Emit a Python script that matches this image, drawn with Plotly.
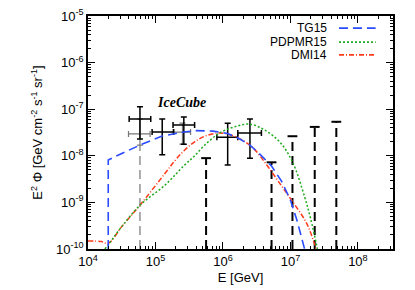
import numpy as np
import plotly.graph_objects as go

# ---------------- data (log10 values) ----------------
tg15_logE = [4.30, 4.30, 4.50, 4.77, 5.09, 5.42, 5.60, 5.85, 6.07, 6.25, 6.40, 6.55, 6.72, 6.87, 7.00, 7.10, 7.21]
tg15_logY = [-10.0, -8.09, -7.95, -7.77, -7.58, -7.49, -7.46, -7.47, -7.52, -7.64, -7.77, -7.97, -8.22, -8.55, -8.95, -9.40, -10.0]

dmi14_logE = [4.00, 4.20, 4.30, 4.50, 4.77, 5.14, 5.29, 5.43, 5.58, 5.73, 5.95, 6.17, 6.43, 6.66, 6.87, 7.03, 7.24, 7.38]
dmi14_logY = [-9.83, -9.84, -9.88, -9.52, -9.06, -8.38, -8.10, -7.88, -7.70, -7.58, -7.51, -7.58, -7.81, -8.22, -8.65, -8.98, -9.45, -10.0]

dpmr15_logE = [4.25, 4.33, 4.50, 4.77, 5.14, 5.43, 5.58, 5.73, 5.95, 6.17, 6.40, 6.62, 6.84, 7.03, 7.21, 7.30, 7.40]
dpmr15_logY = [-10.0, -9.85, -9.52, -9.06, -8.63, -8.20, -8.00, -7.77, -7.51, -7.38, -7.32, -7.45, -7.70, -8.13, -8.88, -9.35, -10.0]

# IceCube points (black)
ic_logE = [4.77, 5.10, 5.42, 6.07, 6.40]
ic_logElo = [4.61, 4.95, 5.26, 5.91, 6.22]
ic_logEhi = [4.93, 5.27, 5.58, 6.22, 6.57]
ic_logY = [-7.21, -7.49, -7.34, -7.60, -7.51]
ic_logYhi = [-6.95, -7.21, -7.17, -7.30, -7.21]
ic_logYlo = [-7.64, -7.98, -7.75, -8.20, -8.05]

# IceCube points (gray)
icg_logE = [4.77, 5.40]
icg_logElo = [4.60, 5.26]
icg_logEhi = [4.92, 5.52]
icg_logY = [-7.53, -7.49]
icg_logYhi = [-7.21, -7.30]
icg_logYlo = [-7.77, -7.75]

# upper limits
ul_logE = [5.75, 6.72, 7.03, 7.36, 7.68]
ul_logY = [-8.05, -8.14, -7.58, -7.38, -7.27]

YMIN = -10.0

p = lambda a: [10 ** v for v in a]

fig = go.Figure()

# gray dashed line below the gray point
fig.add_trace(go.Scatter(x=p([icg_logE[0], icg_logE[0]]), y=p([YMIN, icg_logYlo[0]]), mode="lines",
                         line=dict(color="#777777", width=1.2, dash="9px,5px"), showlegend=False))

# upper limits: dashed verticals
ulx, uly = [], []
for e, v in zip(ul_logE, ul_logY):
    ulx += [10 ** e, 10 ** e, None]
    uly += [10 ** YMIN, 10 ** v, None]
fig.add_trace(go.Scatter(x=ulx, y=uly, mode="lines",
                         line=dict(color="black", width=2, dash="9px,5px"), showlegend=False))
fig.add_trace(go.Scatter(x=p(ul_logE), y=p(ul_logY), mode="markers",
                         marker=dict(symbol="line-ew", size=7, line=dict(color="black", width=2)),
                         showlegend=False))

def errpts(logE, lo, hi, logY, ylo, yhi, color, width):
    x = np.array(p(logE)); y = np.array(p(logY))
    return go.Scatter(
        x=x, y=y, mode="markers", marker=dict(size=1, color=color), showlegend=False,
        error_x=dict(type="data", symmetric=False, array=np.array(p(hi)) - x, arrayminus=x - np.array(p(lo)),
                     color=color, thickness=width, width=3),
        error_y=dict(type="data", symmetric=False, array=np.array(p(yhi)) - y, arrayminus=y - np.array(p(ylo)),
                     color=color, thickness=width, width=3))

fig.add_trace(errpts(icg_logE, icg_logElo, icg_logEhi, icg_logY, icg_logYlo, icg_logYhi, "#777777", 1.2))
fig.add_trace(errpts(ic_logE, ic_logElo, ic_logEhi, ic_logY, ic_logYlo, ic_logYhi, "black", 1.5))

BLUE = "#2a4bff"
GREEN = "#1faa1f"
RED = "#ff3a1a"
TG_DASH = "9px,5px"
DP_DASH = "2px,2px"
DM_DASH = "5px,2px,1px,2px"

fig.add_trace(go.Scatter(x=p(dmi14_logE), y=p(dmi14_logY), mode="lines", line_shape="spline",
                         line=dict(color=RED, width=1.5, dash=DM_DASH), showlegend=False))
fig.add_trace(go.Scatter(x=p(dpmr15_logE), y=p(dpmr15_logY), mode="lines", line_shape="spline",
                         line=dict(color=GREEN, width=1.5, dash=DP_DASH), showlegend=False))
fig.add_trace(go.Scatter(x=p(tg15_logE), y=p(tg15_logY), mode="lines",
                         line=dict(color=BLUE, width=1.6, dash=TG_DASH), showlegend=False))

# legend (text left, sample right)
leg = [("TG15", BLUE, TG_DASH, 0.948), ("PDPMR15", GREEN, DP_DASH, 0.888), ("DMI14", RED, DM_DASH, 0.833)]
for name, col, dash, yy in leg:
    fig.add_annotation(x=0.787, y=yy, xref="paper", yref="paper", text=name, showarrow=False,
                       xanchor="right", yanchor="middle", borderpad=0,
                       font=dict(size=12, color="black"))
    fig.add_shape(type="line", xref="paper", yref="paper", x0=0.823, x1=0.943, y0=yy, y1=yy,
                  line=dict(color=col, width=1.6, dash=dash))

fig.add_annotation(x=5.38, y=-6.85, xref="x", yref="y", text="<b><i>IceCube</i></b>", showarrow=False,
                   font=dict(family="Liberation Serif", size=14, color="black"))

minor_x = [np.log10(m) + k for k in range(4, 9) for m in range(2, 10)]
minor_y = [np.log10(m) + k for k in range(-10, -5) for m in range(2, 10)]
xt = [4, 5, 6, 7, 8]
yt = [-10, -9, -8, -7, -6, -5]

axcommon = dict(showline=True, linecolor="black", linewidth=1.5, mirror="allticks", ticks="inside",
                ticklen=7, tickwidth=1, tickcolor="black", showgrid=False, zeroline=False,
                automargin=False, ticklabeloverflow="allow", tickfont=dict(size=13, color="black"))
fig.update_xaxes(type="log", range=[4, 8.52], tickvals=p(xt),
                 ticktext=["10<sup>%d</sup>" % v for v in xt],
                 minor=dict(tickvals=p(minor_x), ticks="inside", ticklen=3, tickcolor="black", showgrid=False),
                 title=dict(text="E [GeV]", font=dict(size=13, color="black"), standoff=5), **axcommon)
fig.update_yaxes(type="log", range=[-10, -5], tickvals=p(yt),
                 ticktext=["10<sup>%d</sup>" % v for v in yt],
                 minor=dict(tickvals=p(minor_y), ticks="inside", ticklen=3, tickcolor="black", showgrid=False),
                 title=dict(text="E<sup>2</sup> Φ [GeV cm<sup>-2</sup> s<sup>-1</sup> sr<sup>-1</sup>]",
                            font=dict(size=13, color="black"), standoff=10), **axcommon)

# page body has an 8px margin: size the figure so that it fills the 415x290 window
fig.update_layout(width=407, height=282, margin=dict(l=80, r=22, t=8, b=41),
                  plot_bgcolor="white", paper_bgcolor="white",
                  font=dict(family="Liberation Sans", color="black"))

fig.write_html("out.html")
